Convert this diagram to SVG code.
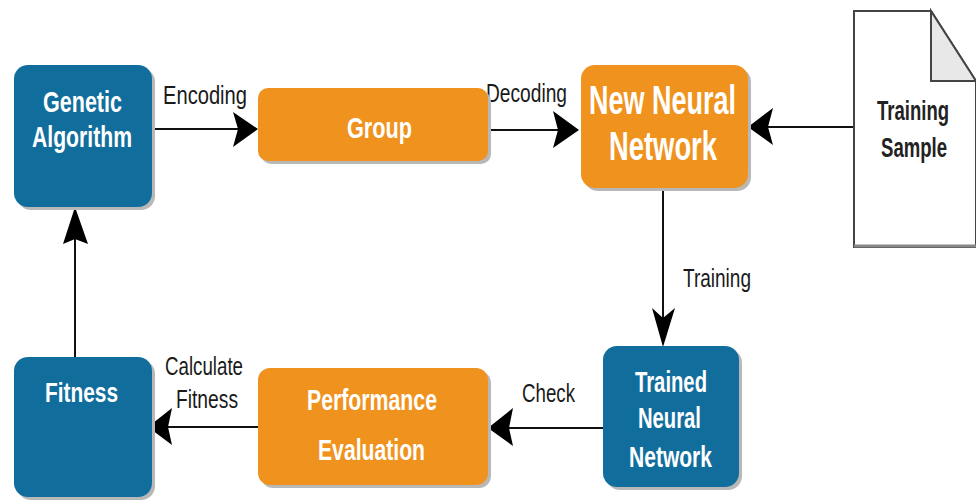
<svg xmlns="http://www.w3.org/2000/svg" width="976" height="501" viewBox="0 0 976 501">
<style>
.blue{fill:#116e9c}
.orange{fill:#f0921e}
.shadow{fill:#b8b8b8}
.nt{font-family:"Liberation Sans",Arial,sans-serif;font-weight:bold;fill:#ffffff;text-anchor:start}
.lb{font-family:"Liberation Sans",Arial,sans-serif;fill:#1a1a1a;font-size:26px}
.line{stroke:#111;stroke-width:2;fill:none}
.head{fill:#000}
</style>
<rect width="976" height="501" fill="#ffffff"/>
<g id="connectors">
  <line class="line" x1="152" y1="129" x2="250" y2="129"/>
  <polygon class="head" points="258,129 233,112 238,129 233,147"/>
  <line class="line" x1="488" y1="130" x2="572" y2="130"/>
  <polygon class="head" points="579,130 553,111 558,130 553,148"/>
  <line class="line" x1="853" y1="127" x2="756" y2="127"/>
  <polygon class="head" points="748,127 773,108 768,127 773,145"/>
  <line class="line" x1="663" y1="190" x2="663" y2="340"/>
  <polygon class="head" points="663,347 652,308 663,318 675,308"/>
  <line class="line" x1="603" y1="428" x2="496" y2="428"/>
  <polygon class="head" points="488,428 513,408 509,428 513,446"/>
  <line class="line" x1="258" y1="427" x2="156" y2="427"/>
  <polygon class="head" points="148,427 172,408 168,427 172,445"/>
  <line class="line" x1="75" y1="357" x2="75" y2="215"/>
  <polygon class="head" points="75,207 63,244 75,239 88,244"/>
</g>
<g id="labels">
  <text class="lb" x="163" y="104" textLength="84" lengthAdjust="spacingAndGlyphs">Encoding</text>
  <text class="lb" x="486" y="102" textLength="81" lengthAdjust="spacingAndGlyphs">Decoding</text>
  <text class="lb" x="683" y="287" textLength="68" lengthAdjust="spacingAndGlyphs">Training</text>
  <text class="lb" x="522" y="402" textLength="53" lengthAdjust="spacingAndGlyphs">Check</text>
  <text class="lb" x="165" y="375" textLength="78" lengthAdjust="spacingAndGlyphs">Calculate</text>
  <text class="lb" x="176" y="408" textLength="62" lengthAdjust="spacingAndGlyphs">Fitness</text>
</g>
<g id="genetic-algorithm">
  <rect class="shadow" x="17" y="68" width="138" height="142" rx="14"/>
  <rect class="blue" x="14" y="65" width="138" height="142" rx="14"/>
  <text class="nt" x="43" y="112" font-size="30" textLength="79" lengthAdjust="spacingAndGlyphs">Genetic</text>
  <text class="nt" x="32" y="147" font-size="30" textLength="100" lengthAdjust="spacingAndGlyphs">Algorithm</text>
</g>
<g id="group">
  <rect class="shadow" x="261" y="91" width="230" height="73" rx="10"/>
  <rect class="orange" x="258" y="88" width="230" height="73" rx="10"/>
  <text class="nt" x="347" y="138" font-size="30" textLength="65" lengthAdjust="spacingAndGlyphs">Group</text>
</g>
<g id="new-neural-network">
  <rect class="shadow" x="584" y="68" width="167" height="123" rx="14"/>
  <rect class="orange" x="581" y="65" width="167" height="123" rx="14"/>
  <text class="nt" x="589" y="114" font-size="41" textLength="147" lengthAdjust="spacingAndGlyphs">New Neural</text>
  <text class="nt" x="609" y="160" font-size="41" textLength="108" lengthAdjust="spacingAndGlyphs">Network</text>
</g>
<g id="training-sample">
  <path d="M854,11 L931,11 L976,81 L976,247 L854,247 Z" fill="#ffffff" stroke="#444" stroke-width="2"/>
  <path d="M931,11 L931,81 L976,81 Z" fill="#e8e8e8" stroke="#444" stroke-width="2"/>
  <line x1="854" y1="246" x2="976" y2="246" stroke="#888" stroke-width="3"/>
  <text x="877" y="120" font-family="Liberation Sans,Arial,sans-serif" font-weight="bold" font-size="27" fill="#222" textLength="72" lengthAdjust="spacingAndGlyphs">Training</text>
  <text x="881" y="157" font-family="Liberation Sans,Arial,sans-serif" font-weight="bold" font-size="27" fill="#222" textLength="66" lengthAdjust="spacingAndGlyphs">Sample</text>
</g>
<g id="trained-neural-network">
  <rect class="shadow" x="606" y="349" width="136" height="141" rx="14"/>
  <rect class="blue" x="603" y="346" width="136" height="141" rx="14"/>
  <text class="nt" x="635" y="392" font-size="29" textLength="72" lengthAdjust="spacingAndGlyphs">Trained</text>
  <text class="nt" x="638" y="428" font-size="29" textLength="63" lengthAdjust="spacingAndGlyphs">Neural</text>
  <text class="nt" x="629" y="467" font-size="29" textLength="83" lengthAdjust="spacingAndGlyphs">Network</text>
</g>
<g id="performance-evaluation">
  <rect class="shadow" x="261" y="371" width="230" height="117" rx="12"/>
  <rect class="orange" x="258" y="368" width="230" height="117" rx="12"/>
  <text class="nt" x="307" y="410" font-size="30" textLength="130" lengthAdjust="spacingAndGlyphs">Performance</text>
  <text class="nt" x="318" y="460" font-size="30" textLength="107" lengthAdjust="spacingAndGlyphs">Evaluation</text>
</g>
<g id="fitness">
  <rect class="shadow" x="17" y="360" width="138" height="140" rx="14"/>
  <rect class="blue" x="14" y="357" width="138" height="140" rx="14"/>
  <text class="nt" x="45" y="402" font-size="28" textLength="73" lengthAdjust="spacingAndGlyphs">Fitness</text>
</g>
</svg>
